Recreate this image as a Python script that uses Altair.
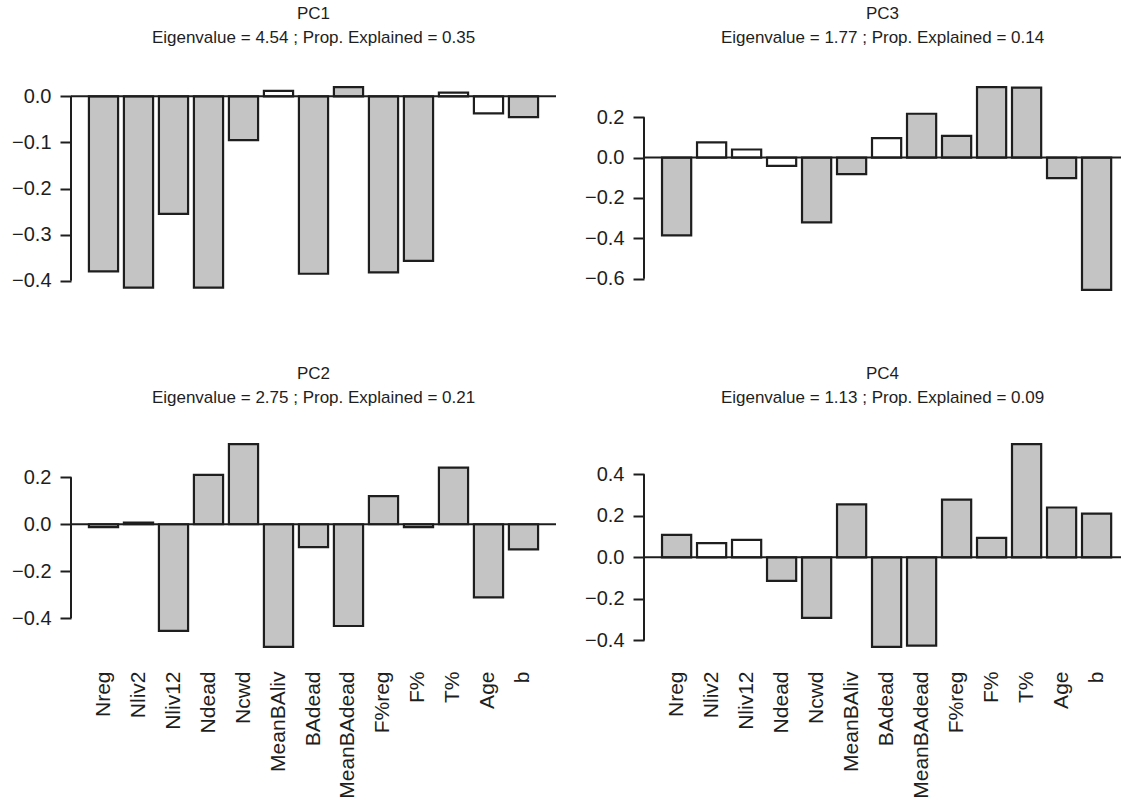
import altair as alt
import pandas as pd

FONT = "Liberation Sans"
INK = "#1e1e1e"
GREY = "#c4c4c4"

variables = ["Nreg", "Nliv2", "Nliv12", "Ndead", "Ncwd", "MeanBAliv", "BAdead",
             "MeanBAdead", "F%reg", "F%", "T%", "Age", "b"]

pc1 = [-0.380, -0.415, -0.255, -0.415, -0.095, 0.012, -0.385, 0.020, -0.382, -0.357, 0.008, -0.037, -0.045]
pc1_shade = ["g", "g", "g", "g", "g", "w", "g", "g", "g", "g", "w", "w", "g"]

pc2 = [-0.012, 0.007, -0.454, 0.210, 0.341, -0.522, -0.097, -0.433, 0.120, -0.012, 0.241, -0.311, -0.107]
pc2_shade = ["g", "g", "g", "g", "g", "g", "g", "g", "g", "g", "g", "g", "g"]

pc3 = [-0.385, 0.075, 0.040, -0.041, -0.321, -0.082, 0.096, 0.217, 0.107, 0.349, 0.346, -0.102, -0.655]
pc3_shade = ["g", "w", "w", "w", "g", "g", "w", "g", "g", "g", "g", "g", "g"]

pc4 = [0.108, 0.068, 0.084, -0.113, -0.291, 0.255, -0.431, -0.425, 0.278, 0.094, 0.545, 0.240, 0.210]
pc4_shade = ["g", "w", "w", "g", "g", "g", "g", "g", "g", "g", "g", "g", "g"]

eigenvalues = [4.54, 2.75, 1.77, 1.13]
prop_explained = [0.35, 0.21, 0.14, 0.09]

ticks1 = [0.0, -0.1, -0.2, -0.3, -0.4]
ticks2 = [0.2, 0.0, -0.2, -0.4]
ticks3 = [0.2, 0.0, -0.2, -0.4, -0.6]
ticks4 = [0.4, 0.2, 0.0, -0.2, -0.4]

dom1 = [-0.4376, 0.0376]
dom2 = [-0.5565, 0.3755]
dom3 = [-0.695, 0.389]
dom4 = [-0.470, 0.584]

H = 219
W_LEFT = 485
W_RIGHT = 477


def panel(name, vals, shades, eig, prop, domain, ticks, width, po, align, show_x, title_offset):
    df = pd.DataFrame({"var": variables, "val": vals, "shade": shades, "base": 0.0})
    if show_x:
        xaxis = alt.Axis(labelAngle=-90, domain=False, ticks=False, labelPadding=16,
                         labelFontSize=21, labelFont=FONT, labelColor=INK, title=None)
    else:
        xaxis = None
    xenc = alt.X("var:N", sort=variables,
                 scale=alt.Scale(paddingInner=1 / 6, paddingOuter=po, align=align),
                 axis=xaxis, title=None)
    yscale = alt.Scale(domain=domain, nice=False, zero=False)
    bars = alt.Chart(df).mark_bar(stroke=INK, strokeWidth=2.2).encode(
        x=xenc,
        y=alt.Y("val:Q", scale=yscale, title=None,
                axis=alt.Axis(values=ticks, format=".1f", domain=False, grid=False,
                              tickSize=11, tickWidth=2, tickColor=INK, labelPadding=9,
                              labelFontSize=20, labelFont=FONT, labelColor=INK)),
        y2="base:Q",
        fill=alt.Fill("shade:N", scale=alt.Scale(domain=["g", "w"], range=[GREY, "#ffffff"]),
                      legend=None),
    )
    zero = alt.Chart(pd.DataFrame({"z": [0.0]})).mark_rule(color=INK, strokeWidth=2).encode(
        y="z:Q", x=alt.value(0), x2=alt.value(width)
    )
    axis_line = alt.Chart(pd.DataFrame({"lo": [min(ticks)], "hi": [max(ticks)]})).mark_rule(
        color=INK, strokeWidth=2
    ).encode(y="lo:Q", y2="hi:Q", x=alt.value(0))
    title = alt.TitleParams(
        text=[name, f"Eigenvalue = {eig:.2f} ; Prop. Explained = {prop:.2f}"],
        fontSize=17, fontWeight="normal", font=FONT, color=INK, lineHeight=24,
        anchor="middle", offset=title_offset,
    )
    return alt.layer(bars, zero, axis_line).properties(width=width, height=H, title=title)


p1 = panel("PC1", pc1, pc1_shade, eigenvalues[0], prop_explained[0], dom1, ticks1, W_LEFT, 0.512, 0.5, False, 32)
p3 = panel("PC3", pc3, pc3_shade, eigenvalues[2], prop_explained[2], dom3, ticks3, W_RIGHT, 0.398, 0.647, False, 32)
p2 = panel("PC2", pc2, pc2_shade, eigenvalues[1], prop_explained[1], dom2, ticks2, W_LEFT, 0.512, 0.5, True, 29)
p4 = panel("PC4", pc4, pc4_shade, eigenvalues[3], prop_explained[3], dom4, ticks4, W_RIGHT, 0.398, 0.647, True, 29)

chart = alt.vconcat(
    alt.hconcat(p1, p3, spacing=27),
    alt.hconcat(p2, p4, spacing=27),
    spacing=67,
).properties(
    padding={"left": 11, "top": 5, "right": 0, "bottom": 0},
    background="white",
).configure_view(stroke=None)

chart.save("out.html", embed_options={"renderer": "svg", "actions": False})
